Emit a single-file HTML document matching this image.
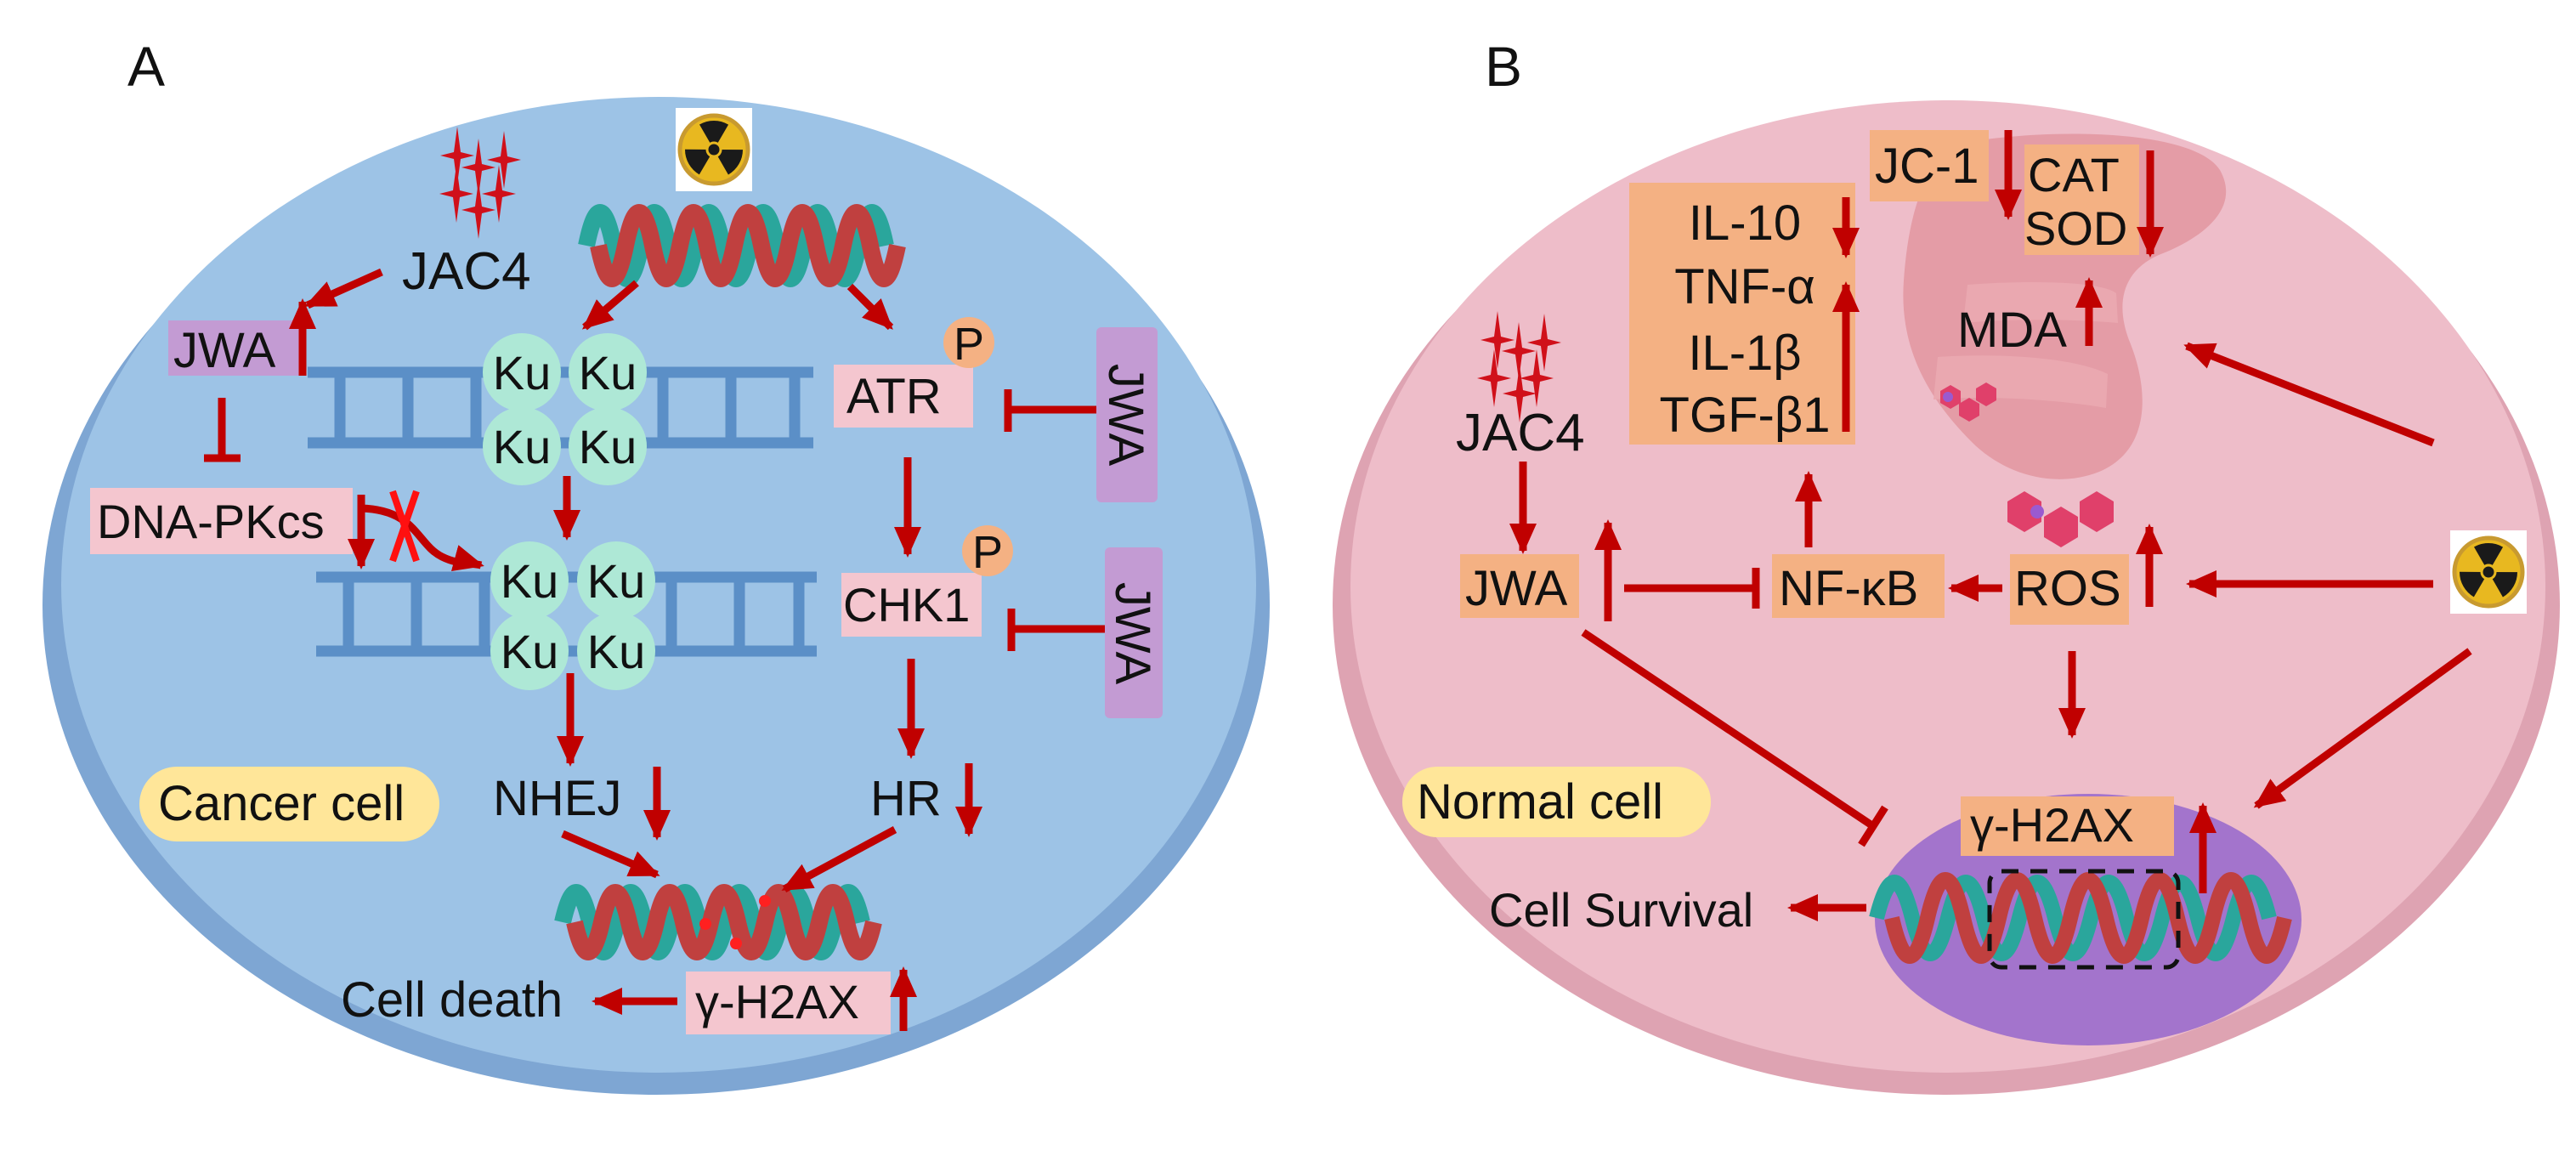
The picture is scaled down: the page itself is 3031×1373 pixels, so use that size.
<!DOCTYPE html>
<html><head><meta charset="utf-8"><style>
html,body{margin:0;padding:0;background:#fff;width:3031px;height:1373px;overflow:hidden}
svg text{font-family:"Liberation Sans","DejaVu Sans",sans-serif;fill:#111}
</style></head><body>
<svg width="3031" height="1373" viewBox="0 0 3031 1373" xmlns="http://www.w3.org/2000/svg">
<defs>
<marker id="ah" markerUnits="userSpaceOnUse" markerWidth="36" markerHeight="32" refX="32" refY="16" orient="auto">
<path d="M0,0 L36,16 L0,32 z" fill="#c00000"/></marker>
<g id="rad">
<rect x="0" y="0" width="90" height="98" fill="#fff"/>
<circle cx="45" cy="49" r="40" fill="#e8b820" stroke="#c89a30" stroke-width="5"/>
<circle cx="45" cy="49" r="17" fill="none" stroke="#1a1a1a" stroke-width="34" stroke-dasharray="17.8 17.8" transform="rotate(-120 45 49)"/>
<circle cx="45" cy="49" r="8" fill="#1a1a1a" stroke="#e8b820" stroke-width="3"/>
</g>
<g id="star"><path d="M0,-34 L4,-4 L20,0 L4,4 L0,34 L-4,4 L-20,0 L-4,-4 z" fill="#d0101a"/></g>
</defs>

<!-- Panel A -->
<text x="150" y="101" font-size="66">A</text>
<ellipse cx="772" cy="712" rx="722" ry="576" fill="#7ea6d3"/>
<ellipse cx="775" cy="688" rx="703" ry="574" fill="#9dc3e6"/>

<use href="#rad" x="795" y="127"/>
<g>
<use href="#star" x="538" y="183"/><use href="#star" x="563" y="197"/><use href="#star" x="593" y="188"/>
<use href="#star" x="537" y="228"/><use href="#star" x="587" y="228"/><use href="#star" x="563" y="247"/>
</g>
<text x="473" y="340" font-size="62">JAC4</text>

<!-- top helix -->
<path d="M690,289 q16,-78 32,0 t32,0 t32,0 t32,0 t32,0 t32,0 t32,0 t32,0 t32,0 t32,0 t32,0" fill="none" stroke="#2aa69c" stroke-width="20"/>
<path d="M704,289 q16,78 32,0 t32,0 t32,0 t32,0 t32,0 t32,0 t32,0 t32,0 t32,0 t32,0 t32,0" fill="none" stroke="#c0403f" stroke-width="20"/>

<!-- ladders -->
<g stroke="#5b8fc7" stroke-width="13" fill="none">
<path d="M362,438 H957 M362,521 H957 M400,438V521 M480,438V521 M560,438V521 M780,438V521 M860,438V521 M935,438V521"/>
<path d="M372,679 H961 M372,766 H961 M410,679V766 M490,679V766 M570,679V766 M790,679V766 M870,679V766 M940,679V766"/>
</g>
<g fill="#aee8d6">
<circle cx="614" cy="438" r="46"/><circle cx="715" cy="438" r="46"/><circle cx="614" cy="525" r="46"/><circle cx="715" cy="525" r="46"/>
<circle cx="623" cy="683" r="46"/><circle cx="725" cy="683" r="46"/><circle cx="623" cy="766" r="46"/><circle cx="725" cy="766" r="46"/>
</g>
<g font-size="56" text-anchor="middle">
<text x="614" y="458">Ku</text><text x="715" y="458">Ku</text><text x="614" y="545">Ku</text><text x="715" y="545">Ku</text>
<text x="623" y="703">Ku</text><text x="725" y="703">Ku</text><text x="623" y="786">Ku</text><text x="725" y="786">Ku</text>
</g>

<rect x="198" y="377" width="155" height="65" fill="#c39bd3"/>
<text x="204" y="432" font-size="58">JWA</text>
<rect x="106" y="574" width="309" height="78" fill="#f4c6cf"/>
<text x="114" y="633" font-size="56">DNA-PKcs</text>
<rect x="981" y="429" width="164" height="74" fill="#f4c6cf"/>
<text x="996" y="486" font-size="58">ATR</text>
<circle cx="1140" cy="403" r="30" fill="#f4b183"/><text x="1140" y="423" font-size="54" text-anchor="middle">P</text>
<rect x="990" y="674" width="165" height="75" fill="#f4c6cf"/>
<text x="992" y="731" font-size="56">CHK1</text>
<circle cx="1162" cy="648" r="30" fill="#f4b183"/><text x="1162" y="668" font-size="54" text-anchor="middle">P</text>
<rect x="1290" y="385" width="72" height="206" rx="6" fill="#c39bd3"/>
<text transform="translate(1305,488) rotate(90)" font-size="58" text-anchor="middle">JWA</text>
<rect x="1300" y="644" width="68" height="201" rx="6" fill="#c39bd3"/>
<text transform="translate(1313,745) rotate(90)" font-size="58" text-anchor="middle">JWA</text>

<rect x="164" y="902" width="353" height="88" rx="44" fill="#ffe699"/>
<text x="186" y="965" font-size="58">Cancer cell</text>
<text x="580" y="959" font-size="58">NHEJ</text>
<text x="1024" y="959" font-size="58">HR</text>

<!-- bottom helix -->
<path d="M662,1085 q16,-70 32,0 t32,0 t32,0 t32,0 t32,0 t32,0 t32,0 t32,0 t32,0 t32,0 t32,0" fill="none" stroke="#2aa69c" stroke-width="20"/>
<path d="M676,1085 q16,70 32,0 t32,0 t32,0 t32,0 t32,0 t32,0 t32,0 t32,0 t32,0 t32,0 t32,0" fill="none" stroke="#c0403f" stroke-width="20"/>
<circle cx="830" cy="1087" r="7" fill="#ff2020"/><circle cx="866" cy="1110" r="7" fill="#ff2020"/><circle cx="900" cy="1060" r="7" fill="#ff2020"/>

<rect x="807" y="1143" width="241" height="74" fill="#f4c6cf"/>
<text x="818" y="1198" font-size="56">γ-H2AX</text>
<text x="401" y="1196" font-size="58">Cell death</text>

<g stroke="#c00000" stroke-width="9" fill="none" marker-end="url(#ah)">
<path d="M449,320 L362,359"/>
<path d="M356,442 L356,355"/>
<path d="M749,333 L688,385"/>
<path d="M1000,337 L1048,385"/>
<path d="M667,560 L667,632"/>
<path d="M425,582 L425,666"/>
<path d="M425,598 C490,600 490,640 520,655 C540,665 555,662 566,665"/>
<path d="M1068,538 L1068,652"/>
<path d="M1072,775 L1072,889"/>
<path d="M671,792 L671,898"/>
<path d="M773,902 L773,985"/>
<path d="M1140,898 L1140,981"/>
<path d="M662,981 L773,1029"/>
<path d="M1053,976 L923,1046"/>
<path d="M797,1178 L700,1178"/>
<path d="M1063,1213 L1063,1141"/>
</g>
<g stroke="#c00000" stroke-width="9" fill="none">
<path d="M261,468 L261,539 M240,539 H283"/>
<path d="M1290,482 H1186 M1186,458 V508"/>
<path d="M1300,740 H1190 M1190,716 V766"/>
</g>
<g stroke="#ff1010" stroke-width="8"><path d="M462,578 L490,660 M490,578 L462,660"/></g>

<!-- Panel B -->
<text x="1747" y="101" font-size="66">B</text>
<ellipse cx="2290" cy="712" rx="722" ry="576" fill="#dea3b2"/>
<ellipse cx="2292" cy="690" rx="703" ry="572" fill="#eebdc9"/>

<path d="M2300,170 C2400,150 2580,150 2612,200 C2640,250 2580,285 2540,300 C2495,320 2490,360 2505,400 C2530,460 2530,530 2470,555 C2420,575 2360,560 2320,520 C2260,460 2235,400 2240,330 C2245,260 2260,200 2300,170Z" fill="#e49ca6"/>
<path d="M2315,335 C2380,330 2470,330 2490,345 L2492,380 C2440,375 2360,375 2310,380Z" fill="#eaa8b0"/>
<path d="M2280,420 C2350,415 2440,420 2480,440 L2478,480 C2420,470 2340,465 2275,470Z" fill="#eaa8b0"/>
<g fill="#e0406a">
<polygon points="2283,460 2295,453 2307,460 2307,474 2295,481 2283,474"/>
<polygon points="2305,475 2317,468 2329,475 2329,489 2317,496 2305,489"/>
<polygon points="2325,457 2337,450 2349,457 2349,471 2337,478 2325,471"/>
<polygon points="2362,590 2382,578 2402,590 2402,614 2382,626 2362,614"/>
<polygon points="2405,608 2425,596 2445,608 2445,632 2425,644 2405,632"/>
<polygon points="2447,590 2467,578 2487,590 2487,614 2467,626 2447,614"/>
</g>
<circle cx="2292" cy="467" r="6" fill="#9a5ad0"/><circle cx="2397" cy="602" r="8" fill="#9a5ad0"/>

<rect x="2200" y="153" width="140" height="84" fill="#f4b183"/>
<text x="2206" y="215" font-size="58">JC-1</text>
<rect x="2382" y="170" width="135" height="130" fill="#f4b183"/>
<text x="2386" y="225" font-size="56">CAT</text>
<text x="2382" y="288" font-size="56">SOD</text>
<text x="2303" y="408" font-size="58">MDA</text>

<rect x="1917" y="215" width="266" height="308" fill="#f4b183"/>
<g font-size="58" text-anchor="middle">
<text x="2053" y="282">IL-10</text><text x="2053" y="357">TNF-α</text><text x="2053" y="435">IL-1β</text><text x="2053" y="508">TGF-β1</text>
</g>

<g>
<use href="#star" x="1762" y="400"/><use href="#star" x="1787" y="413"/><use href="#star" x="1817" y="403"/>
<use href="#star" x="1758" y="445"/><use href="#star" x="1808" y="445"/><use href="#star" x="1788" y="463"/>
</g>
<text x="1713" y="530" font-size="62">JAC4</text>

<rect x="1718" y="652" width="140" height="75" fill="#f4b183"/>
<text x="1724" y="712" font-size="58">JWA</text>
<rect x="2085" y="652" width="203" height="75" fill="#f4b183"/>
<text x="2093" y="712" font-size="58">NF-κB</text>
<rect x="2365" y="652" width="140" height="83" fill="#f4b183"/>
<text x="2370" y="712" font-size="58">ROS</text>

<use href="#rad" x="2883" y="624"/>

<rect x="1650" y="902" width="363" height="83" rx="41" fill="#ffe699"/>
<text x="1667" y="963" font-size="58">Normal cell</text>

<ellipse cx="2457" cy="1082" rx="251" ry="148" fill="#a374cc"/>
<rect x="2307" y="937" width="251" height="70" fill="#f4b183"/>
<text x="2318" y="990" font-size="56">γ-H2AX</text>
<path d="M2208,1080 q21,-84 42,0 t42,0 t42,0 t42,0 t42,0 t42,0 t42,0 t42,0 t42,0 t42,0 t42,0" fill="none" stroke="#2aa69c" stroke-width="18"/>
<path d="M2226,1080 q21,90 42,0 t42,0 t42,0 t42,0 t42,0 t42,0 t42,0 t42,0 t42,0 t42,0 t42,0" fill="none" stroke="#c0403f" stroke-width="18"/>
<rect x="2341" y="1025" width="222" height="113" rx="14" fill="none" stroke="#111" stroke-width="5" stroke-dasharray="20 14"/>
<text x="1752" y="1090" font-size="56">Cell Survival</text>

<g stroke="#c00000" stroke-width="9" fill="none" marker-end="url(#ah)">
<path d="M2363,153 L2363,255"/>
<path d="M2530,177 L2530,299"/>
<path d="M2458,407 L2458,330"/>
<path d="M2172,232 L2172,300"/>
<path d="M2172,508 L2172,335"/>
<path d="M2863,521 L2573,407"/>
<path d="M2128,644 L2128,558"/>
<path d="M1792,543 L1792,648"/>
<path d="M1892,731 L1892,615"/>
<path d="M2356,692 L2296,692"/>
<path d="M2529,714 L2529,620"/>
<path d="M2863,687 L2576,687"/>
<path d="M2438,766 L2438,865"/>
<path d="M2906,766 L2655,948"/>
<path d="M2592,1051 L2592,948"/>
<path d="M2196,1068 L2107,1068"/>
</g>
<g stroke="#c00000" stroke-width="9" fill="none">
<path d="M1911,692 H2066 M2066,668 V716"/>
<path d="M1863,744 L2204,972 M2190,994 L2218,950"/>
</g>
</svg>
</body></html>
